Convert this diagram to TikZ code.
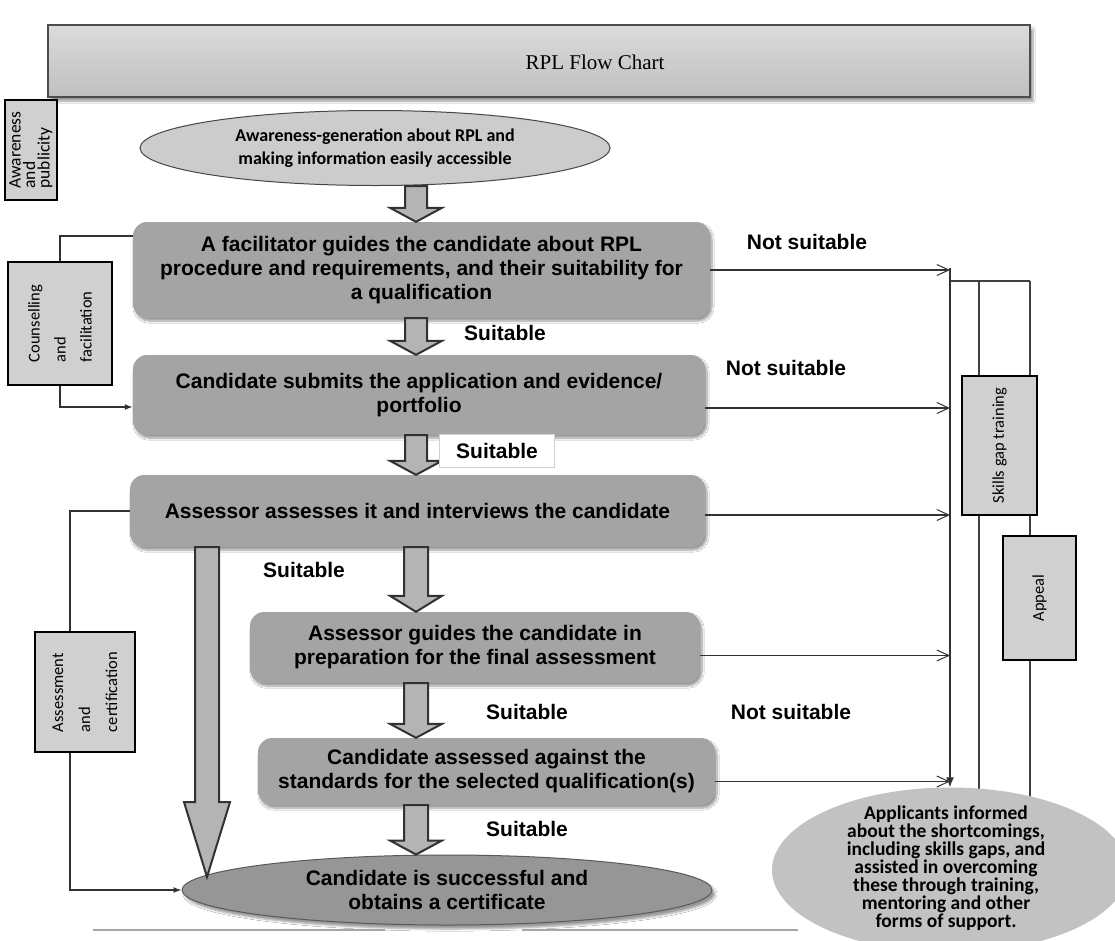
\documentclass[tikz,border=0pt]{standalone}
\usepackage{fontspec}
\setmainfont{Liberation Sans}
\newfontfamily\calibrifont{Carlito}
\newfontfamily\titlefont{Liberation Serif}
\usetikzlibrary{arrows.meta,calc,shapes.geometric,shadows.blur}
\definecolor{boxgray}{RGB}{164,164,164}
\definecolor{ovalgray}{RGB}{204,204,204}
\definecolor{finalgray}{RGB}{150,150,150}
\definecolor{infogray}{RGB}{194,194,194}
\definecolor{sidegray}{RGB}{208,208,208}
\definecolor{arrgray}{RGB}{180,180,180}
\definecolor{inkgray}{RGB}{50,50,50}
\tikzset{flowbox/.style={rectangle,rounded corners=14pt,fill=boxgray,align=center,inner sep=0pt,
           font=\fontsize{21}{24}\selectfont\bfseries,
           blur shadow={shadow xshift=2pt,shadow yshift=-3pt,shadow blur steps=8}},
         sidebox/.style={draw=black,line width=1.4pt,fill=sidegray,rotate=90,align=left,inner sep=0pt},
         oval/.style={ellipse,inner sep=0pt,align=center},
         tag/.style={font=\fontsize{21}{24}\selectfont\bfseries,inner sep=0pt},
         link/.style={line width=1.4pt,inkgray},
         fail/.style={-{Straight Barb[length=12pt,width=11pt,line width=1pt]},line width=1.1pt,inkgray},
         rail/.style={line width=2.4pt,black!75},
         blockarr/.style={fill=arrgray,draw=inkgray,line width=2pt,line join=miter}}
\newcommand{\blockarrow}[5]{%
  \path (#1) coordinate (ba-s) (#2) coordinate (ba-t);
  \draw[blockarr] ($(ba-s)+(-#3,0)$) -- ($(ba-s)+(#3,0)$) -- ($(ba-t)+(#3,-#5)$)
    -- ($(ba-t)+(#4,-#5)$) -- (ba-t) -- ($(ba-t)+(-#4,-#5)$) -- ($(ba-t)+(-#3,-#5)$) -- cycle;}
\begin{document}
\begin{tikzpicture}[x=1pt,y=-1pt]
  \useasboundingbox (0,0) rectangle (1115,940);
  \clip (0,0) rectangle (1115,940);
  \fill[white] (0,0) rectangle (1115,940);

  \node[rectangle,minimum width=982pt,minimum height=72pt,top color=gray!28,bottom color=gray!50,
    draw=gray!60!black,line width=1.2pt,blur shadow={shadow xshift=3pt,shadow yshift=-4pt}] (title) at (539,61) {};
  \node[font=\titlefont\fontsize{21}{22}\selectfont] (titletext) at (595,62) {RPL Flow Chart};

  \node[sidebox,minimum width=100pt,minimum height=52pt,font=\calibrifont\fontsize{17.5}{14.5}\selectfont]
    (aware) at (31,150) {Awareness\\and\\publicity};
  \node[oval,minimum width=470pt,minimum height=75pt,fill=ovalgray,draw=gray!55!black,line width=1pt,
    font=\calibrifont\bfseries\fontsize{18}{23}\selectfont] (publicity) at (375,148)
    {Awareness-generation about RPL and\\making information easily accessible};

  \node[flowbox,minimum width=577pt,minimum height=96pt] (facil) at (421.5,270)
    {A facilitator guides the candidate about RPL\\procedure and requirements, and their suitability for\\a qualification};
  \node[flowbox,minimum width=572pt,minimum height=80pt] (submit) at (419,395)
    {Candidate submits the application and evidence/\\portfolio};
  \node[flowbox,minimum width=575pt,minimum height=72pt] (assess) at (417.5,511)
    {Assessor assesses it and interviews the candidate};
  \node[flowbox,minimum width=450pt,minimum height=71pt] (guide) at (475,647.5)
    {Assessor guides the candidate in\\preparation for the final assessment};
  \node[flowbox,minimum width=457pt,minimum height=67pt] (final) at (486.5,771.5)
    {Candidate assessed against the\\standards for the selected qualification(s)};
  \node[oval,minimum width=530pt,minimum height=70pt,fill=finalgray,draw=black!65,line width=1pt,
    font=\fontsize{21}{24}\selectfont\bfseries,blur shadow={shadow xshift=3pt,shadow yshift=-4pt}]
    (success) at (447,890) {Candidate is successful and\\obtains a certificate};

  \node[sidebox,minimum width=123pt,minimum height=104pt,font=\calibrifont\fontsize{16.5}{26}\selectfont]
    (counsel) at (60,323.5) {Counselling\\and\\facilitation};
  \node[sidebox,minimum width=120pt,minimum height=100pt,font=\calibrifont\fontsize{16.5}{27}\selectfont]
    (certif) at (85,692) {Assessment\\and\\certification};

  \draw[link] (counsel.east) |- ([yshift=34pt]facil.west);
  \draw[link,-{Latex[length=8pt,width=6pt]}] (counsel.west) |- ([yshift=-12pt]submit.west);
  \draw[link] ([xshift=-15pt]certif.east) |- (assess.west);
  \draw[link,-{Latex[length=8pt,width=6pt]}] ([xshift=-15pt]certif.west) |- (success.west);

  \coordinate (col) at (416,0);
  \coordinate (bigcol) at (207,0);
  \coordinate (bigtip) at (207,877);
  \blockarrow{col |- publicity.south}{col |- facil.north}{11}{26}{14}
  \blockarrow{col |- facil.south}{col |- submit.north}{11}{26}{14}
  \blockarrow{col |- submit.south}{col |- assess.north}{11}{26}{14}
  \blockarrow{col |- assess.south}{col |- guide.north}{12}{26}{16}
  \blockarrow{col |- guide.south}{col |- final.north}{12}{26}{14}
  \blockarrow{col |- final.south}{col |- success.north}{12}{26}{14}
  \blockarrow{bigcol |- assess.south}{bigtip}{12}{23}{75}

  \node[tag] (ok1) at (505,333) {Suitable};
  \node[tag,fill=white,draw=black!18,minimum width=115pt,minimum height=33pt] (ok2) at (497,451) {Suitable};
  \node[tag] (ok3) at (304,570) {Suitable};
  \node[tag] (ok4) at (527,712) {Suitable};
  \node[tag] (ok5) at (527,829) {Suitable};
  \node[tag] (no1) at (807,242) {Not suitable};
  \node[tag] (no2) at (786,368) {Not suitable};
  \node[tag] (no3) at (791,712) {Not suitable};

  \coordinate (railA) at (950,268);
  \coordinate (railB) at (979,281);
  \coordinate (railC) at (1030,281);
  \coordinate (railend) at (0,806);
  \node[sidebox,minimum width=139pt,minimum height=75pt,align=center,font=\calibrifont\fontsize{16.5}{16}\selectfont]
    (skills) at (999.5,445.5) {Skills gap training};
  \node[sidebox,minimum width=124pt,minimum height=73pt,align=center,font=\calibrifont\fontsize{16.5}{16}\selectfont]
    (appeal) at (1039.5,598) {Appeal};
  \draw[rail] (railA |- railB) -- (railC);
  \draw[rail] (railB) -- (railB |- skills.east);
  \draw[rail] (railB |- skills.west) -- (railB |- railend);
  \draw[rail] (railC) -- (railC |- skills.east);
  \draw[rail] (railC |- skills.west) -- (railC |- appeal.east);
  \draw[rail] (railC |- appeal.west) -- (railC |- railend);

  \node[oval,minimum width=356pt,minimum height=165pt,fill=infogray] (inform) at (950,870) {};
  \node[align=center,inner sep=0pt,font=\calibrifont\bfseries\fontsize{19.5}{15.6}\selectfont]
    (informtext) at (946,868)
    {Applicants informed\\about the shortcomings,\\including skills gaps, and\\assisted in overcoming\\these through training,\\mentoring and other\\forms of support.};

  \draw[line width=1.2pt,inkgray,-{Latex[length=10pt,width=8pt]}] (railA) -- (inform.north);
  \draw[fail] (facil.east) -- (facil.east -| railA);
  \draw[fail] ([yshift=-13pt]submit.east) -- ([yshift=-13pt]submit.east -| railA);
  \draw[fail] ([yshift=-4pt]assess.east) -- ([yshift=-4pt]assess.east -| railA);
  \draw[fail] ([yshift=-8pt]guide.east) -- ([yshift=-8pt]guide.east -| railA);
  \draw[fail] ([yshift=-10pt]final.east) -- ([yshift=-10pt]final.east -| railA);

  \draw[gray!70,line width=1.2pt] (93,930) -- (385,930);
  \draw[gray!70,line width=1.2pt] (522,930) -- (798,930);
\end{tikzpicture}
\end{document}
